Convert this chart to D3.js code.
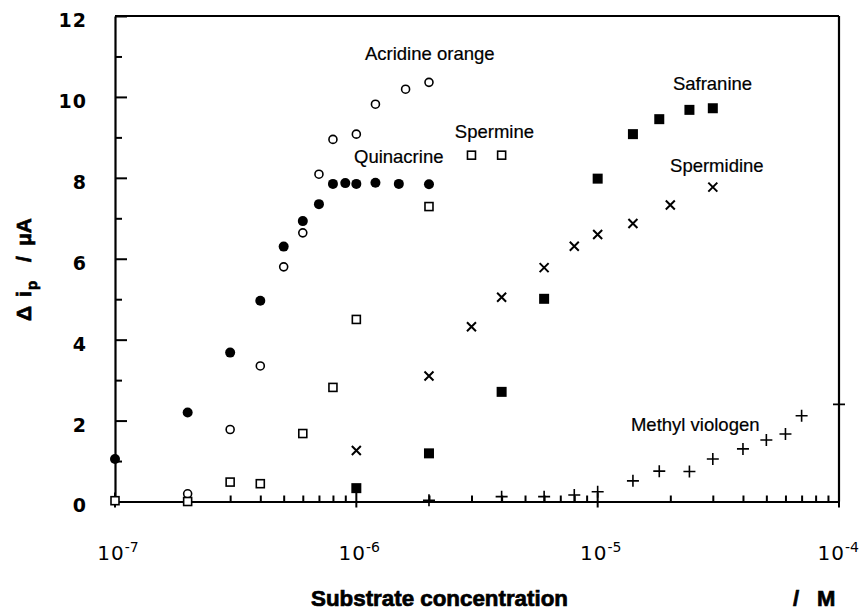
<!DOCTYPE html>
<html>
<head>
<meta charset="utf-8">
<script src="https://cdn.jsdelivr.net/npm/d3@7"></script>
<style>
  body { margin: 0; background: #fff; }
  svg { display: block; }
</style>
</head>
<body>
<div id="chart"></div>
<script>
// concentrations (M) and peak current changes (uA)
const acridineConc = [2e-7, 3e-7, 4e-7, 5e-7, 6e-7, 7e-7, 8e-7, 1e-6, 1.2e-6, 1.6e-6, 2e-6];
const acridineVals = [0.19, 1.78, 3.35, 5.8, 6.64, 8.09, 8.95, 9.08, 9.82, 10.19, 10.36];

const quinacrineConc = [1e-7, 2e-7, 3e-7, 4e-7, 5e-7, 6e-7, 7e-7, 8e-7, 9e-7, 1e-6, 1.2e-6, 1.5e-6, 2e-6];
const quinacrineVals = [1.05, 2.2, 3.68, 4.96, 6.3, 6.93, 7.35, 7.85, 7.87, 7.85, 7.88, 7.85, 7.84];

const spermineConc = [1e-7, 2e-7, 3e-7, 4e-7, 6e-7, 8e-7, 1e-6, 2e-6, 3e-6, 4e-6];
const spermineVals = [0.02, 0.0, 0.48, 0.44, 1.68, 2.82, 4.5, 7.29, 8.56, 8.56];

const spermidineConc = [1e-6, 2e-6, 3e-6, 4e-6, 6e-6, 8e-6, 1e-5, 1.4e-5, 2e-5, 3e-5];
const spermidineVals = [1.26, 3.1, 4.32, 5.05, 5.78, 6.31, 6.6, 6.87, 7.33, 7.77];

const safranineConc = [1e-6, 2e-6, 4e-6, 6e-6, 1e-5, 1.4e-5, 1.8e-5, 2.4e-5, 3e-5];
const safranineVals = [0.33, 1.19, 2.71, 5.01, 7.98, 9.08, 9.45, 9.68, 9.72];

const viologenConc = [2e-6, 4e-6, 6e-6, 8e-6, 1e-5, 1.4e-5, 1.8e-5, 2.4e-5, 3e-5, 4e-5, 5e-5, 6e-5, 7e-5, 1e-4];
const viologenVals = [0.03, 0.12, 0.12, 0.16, 0.24, 0.51, 0.75, 0.74, 1.05, 1.3, 1.52, 1.67, 2.12, 2.4];

const yMajorTicks = [0, 2, 4, 6, 8, 10, 12];
const yMinorTicks = [1, 3, 5, 7, 9, 11];
const xDecades = [1e-7, 1e-6, 1e-5, 1e-4];
const xDecadeExp = ["-7", "-6", "-5", "-4"];

// curve labels: text, concentration, value (where the baseline starts)
const labelText = ["Acridine orange", "Quinacrine", "Spermine", "Safranine", "Spermidine", "Methyl viologen"];
const labelConc = [1.086e-6, 9.78e-7, 2.56e-6, 2.05e-5, 1.995e-5, 1.374e-5];
const labelVals = [10.91, 8.37, 8.98, 10.17, 8.14, 1.74];

const W = 861, H = 611;
const svg = d3.select("#chart").append("svg")
  .attr("width", W)
  .attr("height", H);

const x = d3.scaleLog().domain([1e-7, 1e-4]).range([115, 839]);
const y = d3.scaleLinear().domain([0, 12]).range([501.5, 16]);

const fontLabel = "'Liberation Sans', Arial, sans-serif";

// frame (top and right)
svg.append("line")
  .attr("x1", x.range()[0]).attr("x2", x.range()[1])
  .attr("y1", y(12)).attr("y2", y(12))
  .attr("stroke", "#000").attr("stroke-width", 2.2);
svg.append("line")
  .attr("x1", x(1e-4)).attr("x2", x(1e-4))
  .attr("y1", y(12)).attr("y2", y(0))
  .attr("stroke", "#000").attr("stroke-width", 2.2);

// left axis
const yAxis = svg.append("g")
  .attr("transform", `translate(${x(1e-7)},0)`)
  .call(d3.axisLeft(y).tickValues(yMajorTicks).tickSizeInner(-12).tickSizeOuter(0).tickPadding(28));
yAxis.select(".domain").attr("stroke-width", 2.2);
yAxis.selectAll(".tick line").attr("stroke-width", 2);
yAxis.selectAll(".tick text")
  .attr("dy", "0.55em")
  .style("font-family", "'DejaVu Sans', sans-serif")
  .style("font-weight", "bold")
  .style("font-size", "19px")
  .style("letter-spacing", "1px")
  .attr("fill", "#000");

svg.append("g")
  .attr("transform", `translate(${x(1e-7)},0)`)
  .call(d3.axisLeft(y).tickValues(yMinorTicks).tickSizeInner(-7).tickSizeOuter(0).tickFormat(""))
  .call(g => g.select(".domain").remove())
  .selectAll(".tick line").attr("stroke-width", 2);

// bottom axis with minor ticks
const minorX = x.ticks().filter(d => !xDecades.some(v => Math.abs(v - d) / v < 1e-6));
const xAxis = svg.append("g")
  .attr("transform", `translate(0,${y(0)})`)
  .call(d3.axisBottom(x).tickValues(minorX).tickSizeInner(-6).tickSizeOuter(0).tickFormat(""));
xAxis.select(".domain").attr("stroke-width", 2.2);
xAxis.selectAll(".tick line").attr("stroke-width", 2);

svg.append("g").selectAll("line")
  .data(xDecades)
  .join("line")
  .attr("x1", d => x(d)).attr("x2", d => x(d))
  .attr("y1", y(0) - 9).attr("y2", y(0) + 6)
  .attr("stroke", "#000").attr("stroke-width", 2);

// the last label would run off the page, so it is right-aligned to the edge
const lastDecade = xDecades.length - 1;
const xLab = svg.append("g").selectAll("text")
  .data(xDecades)
  .join("text")
  .attr("x", (d, i) => i === lastDecade ? W - 2 : x(d) + 3)
  .attr("y", 560)
  .attr("text-anchor", (d, i) => i === lastDecade ? "end" : "middle")
  .style("font-family", "'DejaVu Sans', sans-serif")
  .style("font-size", "20px")
  .style("letter-spacing", "1px")
  .attr("fill", "#000");
xLab.append("tspan").text("10");
xLab.append("tspan")
  .attr("dy", -8)
  .style("font-size", "14px")
  .style("letter-spacing", "0px")
  .text((d, i) => xDecadeExp[i]);

// axis titles
const titleStyle = t => t
  .style("font-family", fontLabel)
  .style("font-weight", "bold")
  .attr("fill", "#000")
  .attr("stroke", "#000")
  .attr("stroke-width", 0.7);

svg.append("text")
  .attr("x", 311).attr("y", 606)
  .attr("textLength", 257).attr("lengthAdjust", "spacingAndGlyphs")
  .style("font-size", "22px")
  .call(titleStyle)
  .text("Substrate concentration");
svg.append("text")
  .attr("x", 793).attr("y", 606)
  .style("font-size", "22px")
  .call(titleStyle)
  .text("/");
svg.append("text")
  .attr("x", 817).attr("y", 606)
  .style("font-size", "22px")
  .call(titleStyle)
  .text("M");

const yTitle = svg.append("g").attr("transform", "translate(31,0) rotate(-90)");
yTitle.append("text").attr("x", -321).attr("y", 0).style("font-size", "21px").call(titleStyle).text("Δ");
yTitle.append("text").attr("x", -297).attr("y", 0).style("font-size", "21px").call(titleStyle).text("i");
yTitle.append("text").attr("x", -290).attr("y", 6).style("font-size", "15px").call(titleStyle).text("p");
yTitle.append("text").attr("x", -262).attr("y", 0).style("font-size", "21px").call(titleStyle).text("/");
yTitle.append("text").attr("x", -246).attr("y", 0).style("font-size", "21px").call(titleStyle).text("μA");

// markers
const pts = (cs, vs) => cs.map((c, i) => ({ c: c, v: vs[i] }));
const marks = svg.append("g");

marks.selectAll(".aco")
  .data(pts(acridineConc, acridineVals))
  .join("circle")
  .attr("class", "aco")
  .attr("cx", d => x(d.c)).attr("cy", d => y(d.v))
  .attr("r", 4)
  .attr("fill", "#fff").attr("stroke", "#000").attr("stroke-width", 1.6);

marks.selectAll(".qui")
  .data(pts(quinacrineConc, quinacrineVals))
  .join("circle")
  .attr("class", "qui")
  .attr("cx", d => x(d.c)).attr("cy", d => y(d.v))
  .attr("r", 5)
  .attr("fill", "#000");

marks.selectAll(".spm")
  .data(pts(spermineConc, spermineVals))
  .join("rect")
  .attr("class", "spm")
  .attr("x", d => x(d.c) - 4).attr("y", d => y(d.v) - 4)
  .attr("width", 8).attr("height", 8)
  .attr("fill", "#fff").attr("stroke", "#000").attr("stroke-width", 1.6);

marks.selectAll(".saf")
  .data(pts(safranineConc, safranineVals))
  .join("rect")
  .attr("class", "saf")
  .attr("x", d => x(d.c) - 5).attr("y", d => y(d.v) - 5)
  .attr("width", 10).attr("height", 10)
  .attr("fill", "#000");

marks.selectAll(".spd")
  .data(pts(spermidineConc, spermidineVals))
  .join("path")
  .attr("class", "spd")
  .attr("d", d => {
    const cx = x(d.c), cy = y(d.v), s = 4.5;
    return `M${cx - s},${cy - s}L${cx + s},${cy + s}M${cx - s},${cy + s}L${cx + s},${cy - s}`;
  })
  .attr("stroke", "#000").attr("stroke-width", 2).attr("fill", "none");

marks.selectAll(".mv")
  .data(pts(viologenConc, viologenVals))
  .join("path")
  .attr("class", "mv")
  .attr("d", d => {
    const cx = x(d.c), cy = y(d.v), s = 6;
    return `M${cx - s},${cy}L${cx + s},${cy}M${cx},${cy - s}L${cx},${cy + s}`;
  })
  .attr("stroke", "#000").attr("stroke-width", 1.6).attr("fill", "none");

// curve labels
svg.append("g").selectAll("text")
  .data(labelText)
  .join("text")
  .attr("x", (d, i) => x(labelConc[i]))
  .attr("y", (d, i) => y(labelVals[i]))
  .style("font-family", fontLabel)
  .style("font-size", "18.5px")
  .attr("fill", "#000")
  .attr("stroke", "#000")
  .attr("stroke-width", 0.2)
  .text(d => d);
</script>
</body>
</html>
